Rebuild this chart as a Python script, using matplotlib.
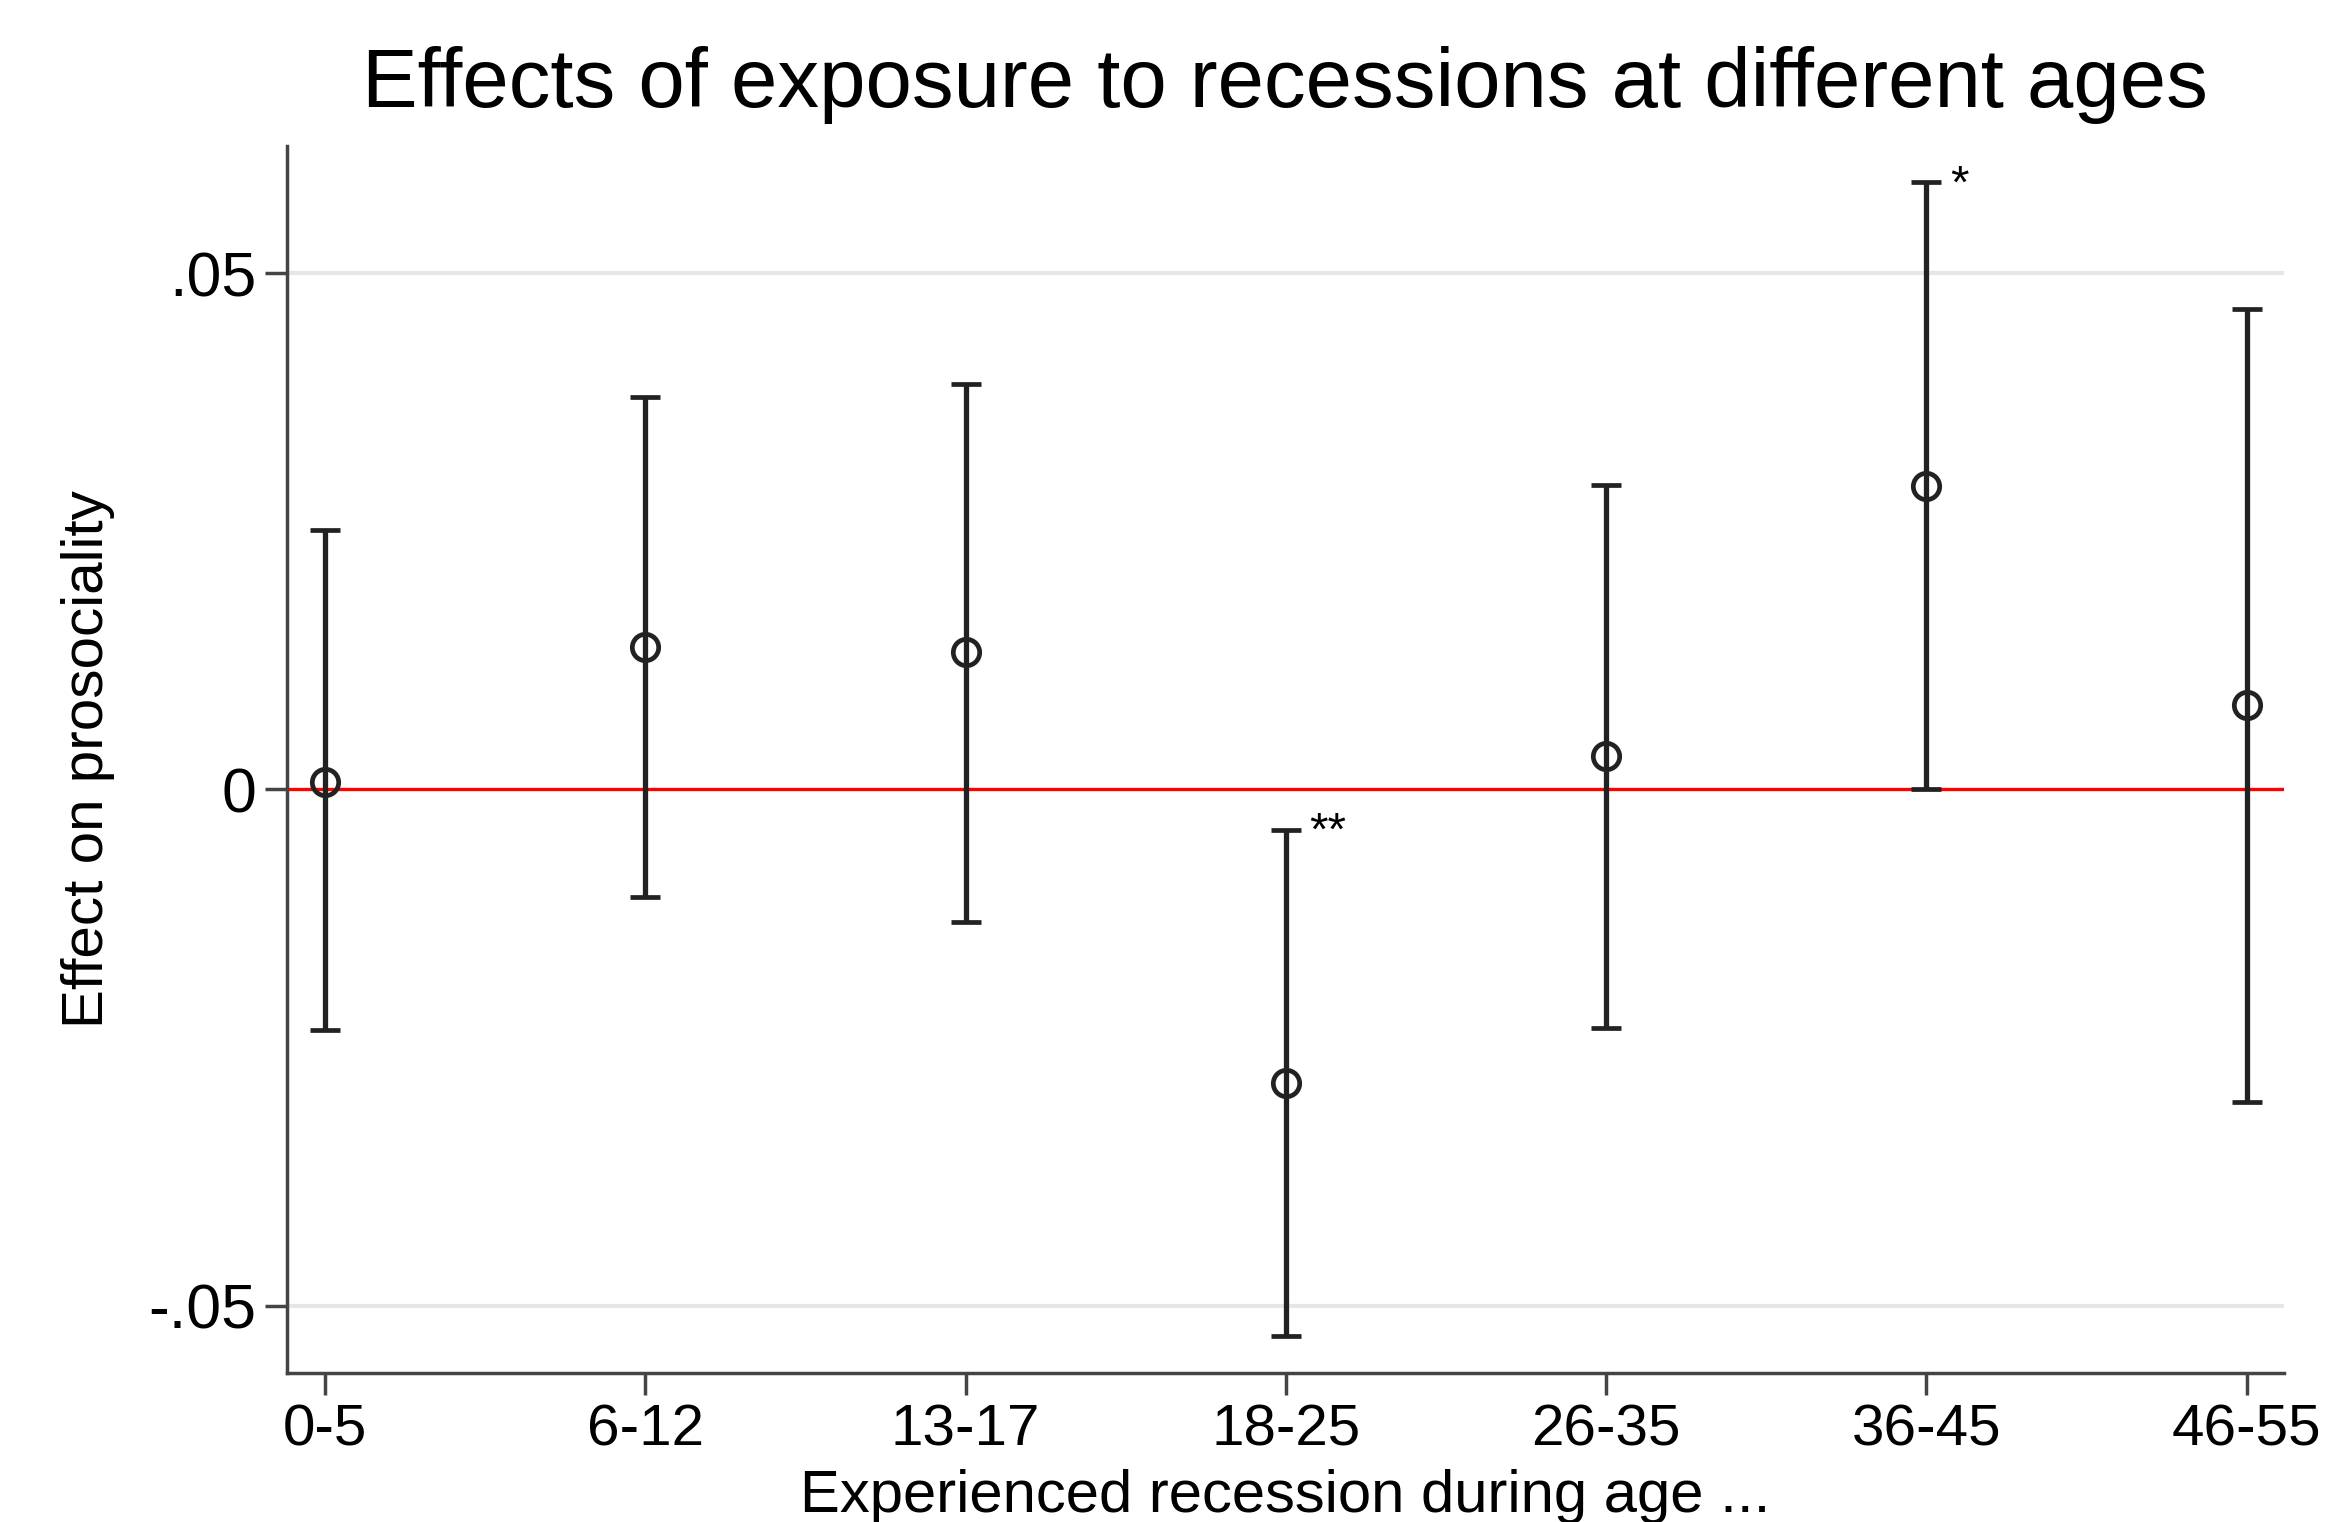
import matplotlib.pyplot as plt
import numpy as np

plt.rcParams['font.family'] = ['Liberation Sans', 'DejaVu Sans']

# age groups and estimates
age_groups = ["0-5", "6-12", "13-17", "18-25", "26-35", "36-45", "46-55"]
effect = [0.0007, 0.0138, 0.0133, -0.0284, 0.0032, 0.0294, 0.0082]
ci_upper = [0.0251, 0.0380, 0.0393, -0.0039, 0.0295, 0.0588, 0.0465]
ci_lower = [-0.0233, -0.0104, -0.0128, -0.0529, -0.0231, 0.0000, -0.0303]
stars = ["", "", "", "**", "", "*", ""]

yticks = [-0.05, 0, 0.05]
ytick_labels = ["-.05", "0", ".05"]

fig = plt.figure(figsize=(23.31, 15.22), dpi=100)
ax = fig.add_axes([0.1231, 0.0979, 0.8567, 0.8062])

x = np.arange(len(age_groups))
eff = np.array(effect)
up = np.array(ci_upper)
lo = np.array(ci_lower)

for yy in [-0.05, 0.05]:
    ax.axhline(yy, color="#e6e6e6", lw=3, zorder=1)
ax.axhline(0, color="#ff0000", lw=2.4, zorder=2)

ax.errorbar(x, eff, yerr=[eff - lo, up - eff], fmt="o", color="#222222",
            ecolor="#222222", elinewidth=3.8, capsize=11, capthick=3.8,
            markersize=19, markerfacecolor="none", markeredgewidth=3.4,
            zorder=3)

for i, s in enumerate(stars):
    if s:
        ax.annotate(s, (x[i], up[i]), xytext=(17, -11), textcoords="offset points",
                    ha="left", va="baseline", fontsize=34, color="black")

ax.set_xlim(-0.119, 6.116)
ax.set_ylim(-0.0565, 0.0623)
ax.set_xticks(x)
ax.set_xticklabels(age_groups)
ax.set_yticks(yticks)
ax.set_yticklabels(ytick_labels)

for side in ["top", "right"]:
    ax.spines[side].set_visible(False)
for side in ["left", "bottom"]:
    ax.spines[side].set_color("#444444")
    ax.spines[side].set_linewidth(2.5)
ax.tick_params(axis="both", length=16, width=2.5, color="#444444",
               labelsize=42, pad=6)
ax.tick_params(axis="y", labelsize=45)

ax.set_title("Effects of exposure to recessions at different ages", fontsize=60, pad=28)
ax.set_ylabel("Effect on prosociality", fontsize=42, labelpad=24)
ax.set_xlabel("Experienced recession during age ...", fontsize=43, labelpad=8)

fig.savefig("out.png", dpi=100)
